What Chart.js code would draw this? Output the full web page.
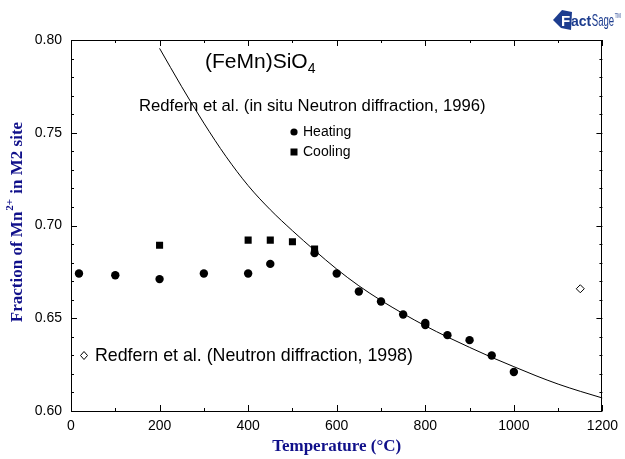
<!DOCTYPE html>
<html>
<head>
<meta charset="utf-8">
<script src="https://cdn.jsdelivr.net/npm/chart.js@4"></script>
<style>
  html, body { margin: 0; padding: 0; background: #fff; }
  canvas { display: block; }
</style>
</head>
<body>
<canvas id="c" width="625" height="459"></canvas>
<script>
// ---- data ----
const heatingT = [18, 100, 200, 300, 400, 450, 550, 600, 650, 700, 750, 800, 800, 850, 900, 950, 1000];
const heatingV = [0.6741, 0.6732, 0.6711, 0.6741, 0.6741, 0.6793, 0.6851, 0.6741, 0.6644, 0.6590, 0.6520, 0.6474, 0.6463, 0.6409, 0.6382, 0.6299, 0.6210];
const coolingT = [200, 400, 450, 500, 550];
const coolingV = [0.6894, 0.6921, 0.6921, 0.6912, 0.6873];
const neutron1998T = [1150];
const neutron1998V = [0.6659];
const curveT = [200, 250, 300, 350, 400, 450, 500, 550, 600, 650, 700, 750, 800, 850, 900, 950, 1000, 1050, 1100, 1150, 1200];
const curveV = [0.7955, 0.7748, 0.7552, 0.7372, 0.7215, 0.7085, 0.6972, 0.6866, 0.6765, 0.6675, 0.6596, 0.6525, 0.6459, 0.6399, 0.6343, 0.6289, 0.6239, 0.6190, 0.6145, 0.6106, 0.6070];
const xTickLabels = [0, 200, 400, 600, 800, 1000, 1200];
const yTickLabels = [0.60, 0.65, 0.70, 0.75, 0.80];

const pts = (xs, ys) => xs.map((x, i) => ({ x: x, y: ys[i] }));
const SANS = '"Liberation Sans", Arial, sans-serif';
const SERIF = '"Liberation Serif", "Times New Roman", serif';
const NAVY = '#10108a';

const framePlugin = {
  id: 'frame',
  afterDraw(chart) {
    const { ctx, chartArea: a, scales } = chart;
    const xs = scales.x, ys = scales.y;
    ctx.save();
    ctx.strokeStyle = '#000';
    ctx.lineWidth = 1;
    ctx.strokeRect(Math.round(a.left) + 0.5, Math.round(a.top) + 0.5, Math.round(a.right - a.left) - 1, Math.round(a.bottom - a.top));
    ctx.beginPath();
    for (let v = 0; v <= 1200; v += 100) {
      const px = Math.round(xs.getPixelForValue(v)) + 0.5;
      const len = (v % 200 === 0) ? 6 : 3;
      ctx.moveTo(px, a.bottom); ctx.lineTo(px, a.bottom - len);
      ctx.moveTo(px, a.top); ctx.lineTo(px, a.top + len);
    }
    for (let k = 60; k <= 80; k++) {
      const py = Math.round(ys.getPixelForValue(k / 100)) + 0.5;
      const len = (k % 5 === 0) ? 6 : 3;
      ctx.moveTo(a.left, py); ctx.lineTo(a.left + len, py);
      ctx.moveTo(a.right, py); ctx.lineTo(a.right - len, py);
    }
    ctx.stroke();

    // annotations
    ctx.fillStyle = '#000';
    ctx.textBaseline = 'alphabetic';
    ctx.textAlign = 'left';
    ctx.font = '21px ' + SANS;
    const t1 = '(FeMn)SiO';
    ctx.fillText(t1, 205, 68);
    const w1 = ctx.measureText(t1).width;
    ctx.font = '14px ' + SANS;
    ctx.fillText('4', 205 + w1, 73);

    ctx.font = '16.7px ' + SANS;
    ctx.fillText('Redfern et al. (in situ Neutron diffraction, 1996)', 139, 111);
    ctx.font = '17.8px ' + SANS;
    ctx.fillText('Redfern et al. (Neutron diffraction, 1998)', 95, 361);

    ctx.font = '14px ' + SANS;
    ctx.textBaseline = 'middle';
    ctx.fillText('Heating', 303, 132);
    ctx.fillText('Cooling', 303, 152);
    ctx.beginPath(); ctx.arc(294, 132, 3.6, 0, Math.PI * 2); ctx.fill();
    ctx.fillRect(290.5, 148.5, 7, 7);
    ctx.beginPath();
    ctx.moveTo(84, 351.5); ctx.lineTo(87.5, 355.5); ctx.lineTo(84, 359.5); ctx.lineTo(80.5, 355.5); ctx.closePath();
    ctx.stroke();

    // y-axis title with superscript
    ctx.save();
    ctx.translate(22, 222);
    ctx.rotate(-Math.PI / 2);
    ctx.fillStyle = NAVY;
    ctx.textBaseline = 'alphabetic';
    const big = 'bold 17px ' + SERIF, small = 'bold 11px ' + SERIF;
    const a1 = 'Fraction of Mn', sup = '2+', a2 = ' in M2 site';
    ctx.font = big; const wa = ctx.measureText(a1).width, wc = ctx.measureText(a2).width;
    ctx.font = small; const wb = ctx.measureText(sup).width;
    let x0 = -(wa + wb + 2 + wc) / 2;
    ctx.font = big; ctx.fillText(a1, x0, 0);
    ctx.font = small; ctx.fillText(sup, x0 + wa + 1, -9);
    ctx.font = big; ctx.fillText(a2, x0 + wa + wb + 2, 0);
    ctx.restore();

    // FactSage logo
    ctx.fillStyle = '#1d3d8f';
    ctx.textBaseline = 'alphabetic';
    ctx.beginPath();
    ctx.moveTo(553, 20); ctx.lineTo(562, 10); ctx.lineTo(572, 12); ctx.lineTo(571, 30); ctx.lineTo(561, 28); ctx.closePath();
    ctx.fill();
    ctx.fillStyle = '#fff';
    ctx.font = 'bold 15px ' + SANS;
    ctx.fillText('F', 561, 26);
    ctx.fillStyle = '#1d3d8f';
    ctx.font = 'bold 14px ' + SANS;
    ctx.fillText('act', 571, 26);
    const wact = ctx.measureText('act').width;
    ctx.save();
    ctx.translate(571 + wact + 0.5, 26);
    ctx.scale(0.6, 1);
    ctx.font = '16px ' + SANS;
    ctx.fillText('Sage', 0, 0);
    const wsage = ctx.measureText('Sage').width;
    ctx.font = '7px ' + SANS;
    ctx.fillText('TM', wsage + 1, -8);
    ctx.restore();
    ctx.restore();
  }
};

new Chart(document.getElementById('c'), {
  type: 'scatter',
  data: {
    datasets: [
      {
        label: 'Model', data: pts(curveT, curveV), showLine: true, pointRadius: 0,
        borderColor: '#000', borderWidth: 1, cubicInterpolationMode: 'monotone', fill: false
      },
      {
        label: 'Heating', data: pts(heatingT, heatingV), pointStyle: 'circle', pointRadius: 4.2,
        backgroundColor: '#000', borderColor: '#000', borderWidth: 0
      },
      {
        label: 'Cooling', data: pts(coolingT, coolingV), pointStyle: 'rect', pointRadius: 5,
        backgroundColor: '#000', borderColor: '#000', borderWidth: 0
      },
      {
        label: 'Neutron 1998', data: pts(neutron1998T, neutron1998V), pointStyle: 'rectRot', pointRadius: 4,
        backgroundColor: '#fff', borderColor: '#000', borderWidth: 1
      }
    ]
  },
  options: {
    responsive: false,
    devicePixelRatio: 1,
    animation: false,
    layout: { padding: { top: 40, right: 18, left: 0, bottom: 0 } },
    plugins: { legend: { display: false }, tooltip: { enabled: false } },
    scales: {
      x: {
        type: 'linear', min: 0, max: 1200,
        afterFit(s) { s.height = 48; },
        afterBuildTicks(s) { s.ticks = xTickLabels.map(v => ({ value: v })); },
        ticks: { color: '#000', font: { family: SANS, size: 14 }, padding: 7, maxRotation: 0,
                 callback: v => String(v) },
        grid: { display: false, drawTicks: false },
        border: { display: false },
        title: { display: true, text: 'Temperature (°C)', color: NAVY,
                 font: { family: SERIF, size: 17, weight: 'bold' }, padding: { top: 0, bottom: 2 } }
      },
      y: {
        type: 'linear', min: 0.6, max: 0.8,
        afterFit(s) { s.width = 71; },
        afterBuildTicks(s) { s.ticks = yTickLabels.map(v => ({ value: v })); },
        ticks: { color: '#000', font: { family: SANS, size: 14 }, padding: 9,
                 callback: v => Number(v).toFixed(2) },
        grid: { display: false, drawTicks: false },
        border: { display: false },
        title: { display: false }
      }
    }
  },
  plugins: [framePlugin]
});
</script>
</body>
</html>
